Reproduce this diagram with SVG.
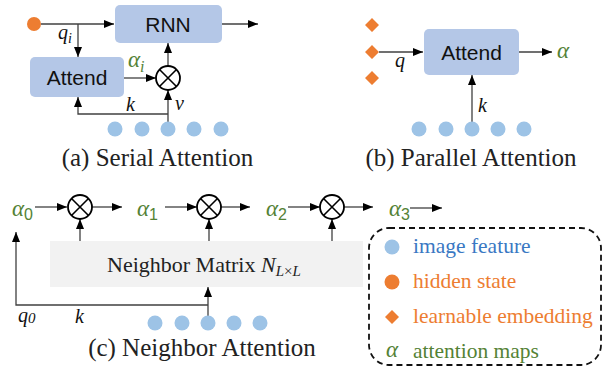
<svg xmlns="http://www.w3.org/2000/svg" width="603" height="368" viewBox="0 0 603 368">
<defs>
<marker id="ah" viewBox="0 0 10 8" refX="10" refY="4" markerWidth="10" markerHeight="8" markerUnits="userSpaceOnUse" orient="auto"><path d="M0,0 L10,4 L0,8 z" fill="#000"/></marker>
<g id="otimes"><circle r="12" fill="#fff" stroke="#000" stroke-width="1.8"/><path d="M-8.5,-8.5 L8.5,8.5 M-8.5,8.5 L8.5,-8.5" stroke="#000" stroke-width="1.6"/></g>
</defs>
<style>
.ln{fill:none;stroke:#404040;stroke-width:1.3}
.ar{marker-end:url(#ah)}
.box{fill:#b4c7e7}
.dot{fill:#9dc3e6}
.org{fill:#ed7d31}
.sans{font-family:"Liberation Sans",Arial,sans-serif;font-size:21px;fill:#111;text-anchor:middle}
.cap{font-family:"Liberation Serif","Times New Roman",serif;font-size:25px;fill:#222;text-anchor:middle}
.mi{font-family:"Liberation Serif","Times New Roman",serif;font-style:italic;font-size:20px;fill:#111}
.ga{font-family:"Liberation Serif","Times New Roman",serif;font-style:italic;font-size:23px;fill:#548235}
.gs{font-family:"Liberation Sans",Arial,sans-serif;font-style:normal;font-size:16px;fill:#548235}
.leg{font-family:"Liberation Serif","Times New Roman",serif;font-size:21.5px}
</style>
<g id="connectors">
<!-- (a) -->
<path class="ln ar" d="M41,24 H114"/>
<path class="ln ar" d="M222,24 H258"/>
<path class="ln ar" d="M78,24 V57"/>
<path class="ln ar" d="M124,78 H156"/>
<path class="ln ar" d="M168,66 V43"/>
<path class="ln ar" d="M168,122 V90"/>
<path class="ln ar" d="M168,114 H78 V97"/>
<!-- (b) -->
<path class="ln ar" d="M379,52 H423"/>
<path class="ln ar" d="M519,52 H552"/>
<path class="ln ar" d="M472,122 V75"/>
<!-- (c) -->
<path class="ln ar" d="M35,207 H67"/>
<path class="ln ar" d="M92,207 H122"/>
<path class="ln ar" d="M165,207 H197"/>
<path class="ln ar" d="M221,207 H250"/>
<path class="ln ar" d="M288,207 H320"/>
<path class="ln ar" d="M344,207 H373"/>
<path class="ln ar" d="M410,208 H442"/>
<path class="ln ar" d="M80,241 V219"/>
<path class="ln ar" d="M209,241 V219"/>
<path class="ln ar" d="M332,241 V219"/>
<path class="ln ar" d="M208,316 V287"/>
<path class="ln ar" d="M208,305 H16 V232"/>
</g>
<g id="serial">
<circle class="org" cx="34" cy="24" r="7"/>
<g id="rnn"><rect class="box" x="115" y="5" width="107" height="38" rx="5"/><text class="sans" x="168" y="32">RNN</text></g>
<g id="attend-a"><rect class="box" x="30" y="57" width="94" height="40" rx="5"/><text class="sans" x="77" y="85">Attend</text></g>
<use href="#otimes" x="168" y="78"/>
<text class="mi" x="58" y="39">q<tspan font-size="14" dy="4">i</tspan></text>
<text class="ga" x="128" y="67">α<tspan font-size="16" dy="5">i</tspan></text>
<text class="mi" x="126" y="111">k</text>
<text class="mi" x="175" y="110">v</text>
<circle class="dot" cx="115" cy="129" r="7.5"/><circle class="dot" cx="142" cy="129" r="7.5"/><circle class="dot" cx="168" cy="129" r="7.5"/><circle class="dot" cx="194" cy="129" r="7.5"/><circle class="dot" cx="221" cy="129" r="7.5"/>
<text class="cap" x="157.5" y="166">(a) Serial Attention</text>
</g>
<g id="parallel">
<path class="org" d="M372,18 L379,25 L372,32 L365,25 z M372,45 L379,52 L372,59 L365,52 z M372,71 L379,78 L372,85 L365,78 z"/>
<g id="attend-b"><rect class="box" x="424" y="29" width="95" height="46" rx="5"/><text class="sans" x="471.5" y="60">Attend</text></g>
<text class="ga" x="557" y="58">α</text>
<text class="mi" x="395" y="67">q</text>
<text class="mi" x="478" y="112">k</text>
<circle class="dot" cx="419" cy="129" r="7.5"/><circle class="dot" cx="446" cy="129" r="7.5"/><circle class="dot" cx="472" cy="129" r="7.5"/><circle class="dot" cx="498" cy="129" r="7.5"/><circle class="dot" cx="524" cy="129" r="7.5"/>
<text class="cap" x="471" y="166">(b) Parallel Attention</text>
</g>
<g id="neighbor">
<g id="matrix"><rect x="50" y="241" width="313" height="46" fill="#f2f2f2"/>
<text font-family="Liberation Serif,Times New Roman,serif" font-size="22" fill="#222" x="107" y="272">Neighbor Matrix <tspan font-style="italic">N</tspan><tspan font-style="italic" font-size="15" dy="4">L</tspan><tspan font-size="15">×</tspan><tspan font-style="italic" font-size="15">L</tspan></text></g>
<use href="#otimes" x="80" y="207"/>
<use href="#otimes" x="209" y="207"/>
<use href="#otimes" x="332" y="207"/>
<text class="ga" x="12" y="216">α<tspan class="gs" dy="4">0</tspan></text>
<text class="ga" x="137" y="216">α<tspan class="gs" dy="4">1</tspan></text>
<text class="ga" x="266" y="216">α<tspan class="gs" dy="4">2</tspan></text>
<text class="ga" x="389" y="216">α<tspan class="gs" dy="4">3</tspan></text>
<text class="mi" x="18" y="322">q<tspan font-size="15" dy="1">0</tspan></text>
<text class="mi" x="75" y="323">k</text>
<circle class="dot" cx="155" cy="323" r="7.5"/><circle class="dot" cx="182" cy="323" r="7.5"/><circle class="dot" cx="208" cy="323" r="7.5"/><circle class="dot" cx="234" cy="323" r="7.5"/><circle class="dot" cx="260" cy="323" r="7.5"/>
<text class="cap" x="202" y="356">(c) Neighbor Attention</text>
</g>
<g id="legend">
<rect x="369" y="228" width="232" height="137" rx="20" fill="none" stroke="#111" stroke-width="1.8" stroke-dasharray="6,4"/>
<circle class="dot" cx="392" cy="247" r="7.5"/>
<text class="leg" x="413" y="253" fill="#3a78c3">image feature</text>
<circle class="org" cx="392" cy="282" r="7.5"/>
<text class="leg" x="413" y="288" fill="#ed7d31">hidden state</text>
<path class="org" d="M392,310 L399,317 L392,324 L385,317 z"/>
<text class="leg" x="413" y="323" fill="#ed7d31">learnable embedding</text>
<text class="ga" x="386" y="357">α</text>
<text class="leg" x="413" y="358" fill="#548235">attention maps</text>
</g>
</svg>
